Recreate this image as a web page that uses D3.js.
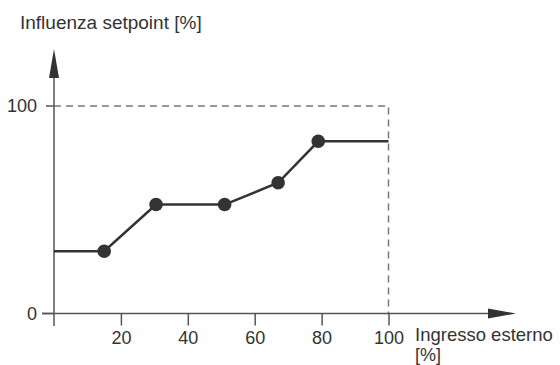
<!DOCTYPE html>
<html><head><meta charset="utf-8">
<script src="https://cdn.jsdelivr.net/npm/d3@7"></script>
<style>body{margin:0;background:#fff}svg{display:block}text{font-family:"Liberation Sans",Arial,sans-serif;fill:#333}</style>
</head><body><svg id="c" width="560" height="365"></svg>
<script>
const xValues = [0, 15, 30.5, 51, 67, 79, 100];
const yValues = [30, 30, 52.5, 52.5, 63, 83, 83];
const markerIdx = [1, 2, 3, 4, 5];
const xTicks = [20, 40, 60, 80, 100];
const yTicks = [0, 100];
const yTitle = "Influenza setpoint [%]";
const xTitle = ["Ingresso esterno", "[%]"];

const svg = d3.select("#c");
const x = d3.scaleLinear().domain([0, 100]).range([54, 388.5]);
const y = d3.scaleLinear().domain([0, 100]).range([313.5, 106]);
const axisColor = "#555";

// dashed reference lines
svg.append("path")
  .attr("d", `M${x(0)},${y(100)}H${x(100)}V${y(0)}`)
  .attr("fill", "none").attr("stroke", "#777").attr("stroke-width", 1.5)
  .attr("stroke-dasharray", "7,5");

// x axis
const xAxis = d3.axisBottom(x).tickValues(xTicks).tickSize(12).tickPadding(6);
const gx = svg.append("g").attr("transform", `translate(0,${y(0)})`).call(xAxis);
gx.select(".domain").remove();
gx.selectAll("line").attr("stroke", axisColor).attr("stroke-width", 1.5);
gx.selectAll("text").attr("font-size", 18).attr("fill", "#333").attr("font-family", "Liberation Sans, Arial, sans-serif");
svg.append("line").attr("x1", 42).attr("x2", 495).attr("y1", y(0)).attr("y2", y(0))
  .attr("stroke", axisColor).attr("stroke-width", 1.5);
svg.append("path").attr("d", `M488,${y(0)-5}L516,${y(0)}L488,${y(0)+5}Z`).attr("fill", "#333");

// y axis
const yAxis = d3.axisLeft(y).tickValues(yTicks).tickSize(0).tickPadding(17);
const gy = svg.append("g").attr("transform", `translate(${x(0)},0)`).call(yAxis);
gy.select(".domain").remove();
gy.selectAll("text").attr("font-size", 18).attr("fill", "#333").attr("font-family", "Liberation Sans, Arial, sans-serif");
svg.append("line").attr("x1", 42).attr("x2", x(0)).attr("y1", y(0)).attr("y2", y(0)).attr("stroke", axisColor).attr("stroke-width", 1.5);
svg.append("line").attr("x1", 46).attr("x2", x(0)).attr("y1", y(100)).attr("y2", y(100)).attr("stroke", axisColor).attr("stroke-width", 1.5);
svg.append("line").attr("x1", x(0)).attr("x2", x(0)).attr("y1", 326).attr("y2", 70)
  .attr("stroke", axisColor).attr("stroke-width", 1.5);
svg.append("path").attr("d", `M${x(0)-5},78L${x(0)},49L${x(0)+5},78Z`).attr("fill", "#333");

// titles
svg.append("text").attr("x", 20).attr("y", 29).attr("font-size", 19).text(yTitle);
svg.append("text").attr("x", 415).attr("y", 340.5).attr("font-size", 18.5).text(xTitle[0]);
svg.append("text").attr("x", 415).attr("y", 361).attr("font-size", 18).text(xTitle[1]);

// data
const pts = xValues.map((v, i) => [v, yValues[i]]);
svg.append("path").datum(pts)
  .attr("d", d3.line().x(d => x(d[0])).y(d => y(d[1])))
  .attr("fill", "none").attr("stroke", "#333").attr("stroke-width", 2.5);
svg.selectAll("circle.m").data(markerIdx.map(i => pts[i])).join("circle")
  .attr("class", "m").attr("cx", d => x(d[0])).attr("cy", d => y(d[1])).attr("r", 6.8)
  .attr("fill", "#333");
</script></body></html>
